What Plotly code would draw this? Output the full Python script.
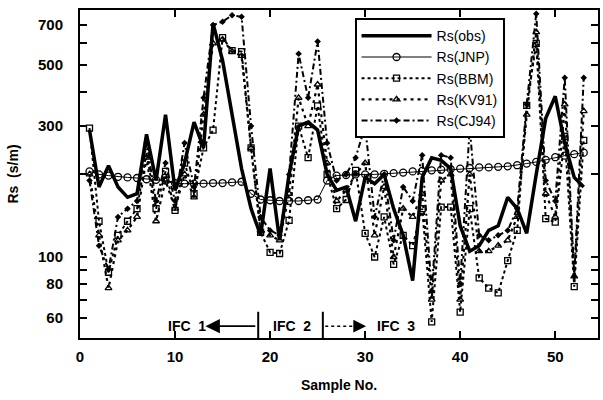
import plotly.graph_objects as go
import math

samples = list(range(1, 54))

rs_obs = [290, 180, 215, 180, 165, 170, 280, 190, 330, 175,
          220, 310, 250, 710, 520, 330, 210, 150, 120, 210,
          115, 200, 300, 310, 290, 200, 175, 180, 135, 195,
          185, 200, 150, 120, 82, 195, 230, 225, 210, 130,
          105, 110, 125, 130, 165, 150, 122, 200, 320, 385,
          260, 195, 180]

rs_jnp = [205, 200, 198, 196, 195, 194, 192, 191, 190, 186,
          185, 185, 185, 186, 186, 187, 188, 170, 162, 161,
          160, 160, 160, 161, 162, 190, 198, 199, 200, 200,
          200, 201, 202, 203, 205, 206, 207, 208, 209, 210,
          211, 212, 212, 213, 214, 216, 219, 222, 226, 231,
          234, 237, 240]

rs_bbm = [295, 135, 88, 120, 135, 150, 240, 150, 205, 148,
          220, 170, 250, 290, 630, 565, 560, 250, 123, 104,
          103, 136, 300, 230, 355, 200, 150, 162, 207, 122,
          100, 140, 94, 120, 110, 150, 58, 152, 152, 63,
          150, 84, 77, 74, 97, 125, 357, 600, 138, 134,
          275, 78, 266]

rs_kv91 = [200, 120, 77, 115, 125, 140, 230, 135, 190, 150,
           200, 165, 330, 600, 620, 560, 540, 250, 125, 120,
           115, 170, 380, 300, 425, 220, 160, 175, 200, 220,
           120, 180, 100, 150, 140, 170, 70, 190, 200, 70,
           200, 105, 105, 110, 115, 140, 330, 660, 170, 140,
           360, 85, 340]

rs_cj94 = [190, 110, 90, 140, 150, 160, 260, 160, 220, 160,
           260, 180, 380, 700, 720, 760, 750, 300, 140, 125,
           120, 200, 550, 380, 610, 260, 190, 200, 230, 300,
           140, 200, 115, 180, 160, 235, 75, 235, 230, 80,
           295, 120, 115, 120, 125, 150, 360, 770, 190, 160,
           450, 85, 450]

y_tickvals = [60, 70, 80, 90, 100, 200, 300, 400, 500, 600, 700]
y_ticktext = ["60", "", "80", "", "100", "", "300", "", "500", "", "700"]
x_tickvals = [0, 10, 20, 30, 40, 50]

fig = go.Figure()
fig.add_trace(go.Scatter(x=samples, y=rs_obs, name="Rs(obs)", mode="lines",
                         line=dict(color="black", width=3.5)))
fig.add_trace(go.Scatter(x=samples, y=rs_jnp, name="Rs(JNP)", mode="lines+markers",
                         line=dict(color="black", width=1),
                         marker=dict(symbol="circle-open", size=7, color="black", line=dict(width=1.3))))
fig.add_trace(go.Scatter(x=samples, y=rs_bbm, name="Rs(BBM)", mode="lines+markers",
                         line=dict(color="black", width=2, dash="dot"),
                         marker=dict(symbol="square-open", size=6, color="black", line=dict(width=1.3))))
fig.add_trace(go.Scatter(x=samples, y=rs_kv91, name="Rs(KV91)", mode="lines+markers",
                         line=dict(color="black", width=2.2, dash="3px,4px"),
                         marker=dict(symbol="triangle-up-open", size=6, color="black", line=dict(width=1.3))))
fig.add_trace(go.Scatter(x=samples, y=rs_cj94, name="Rs(CJ94)", mode="lines+markers",
                         line=dict(color="black", width=2, dash="6px,3px,2px,3px"),
                         marker=dict(symbol="diamond", size=5, color="black")))

font = "Liberation Sans, Arial, sans-serif"

ylo, yhi = 50.7, 794
ly = math.log10(56)
py = (ly - math.log10(ylo)) / (math.log10(yhi) - math.log10(ylo))

fig.add_annotation(x=11.3, y=ly, text="<b>IFC  1</b>", showarrow=False,
                   font=dict(size=14, family=font, color="black"))
fig.add_annotation(x=22.3, y=ly, text="<b>IFC  2</b>", showarrow=False,
                   font=dict(size=14, family=font, color="black"))
fig.add_annotation(x=33.2, y=ly, text="<b>IFC  3</b>", showarrow=False,
                   font=dict(size=14, family=font, color="black"))
fig.add_annotation(x=13.2, y=ly, ax=18.6, ay=ly, xref="x", yref="y", axref="x", ayref="y",
                   text="", showarrow=True, arrowhead=2, arrowsize=1.6, arrowwidth=1.8,
                   arrowcolor="black")
fig.add_shape(type="line", x0=25.8, x1=29.2, y0=py, y1=py, xref="x", yref="paper",
              line=dict(color="black", width=1.5, dash="dot"))
fig.add_annotation(x=30.1, y=ly, ax=28.9, ay=ly, xref="x", yref="y", axref="x", ayref="y",
                   text="", showarrow=True, arrowhead=2, arrowsize=1.6, arrowwidth=1.6,
                   arrowcolor="black")
for xv in [18.75, 25.55]:
    fig.add_shape(type="line", x0=xv, x1=xv, y0=0, y1=0.08, xref="x", yref="paper",
                  line=dict(color="black", width=2))

axis_common = dict(showline=True, linecolor="black", linewidth=2, mirror="allticks",
                   ticks="inside", ticklen=7, tickwidth=1.5, tickcolor="black",
                   showgrid=False, zeroline=False,
                   tickfont=dict(size=15, family=font, color="black"))

fig.update_xaxes(range=[0, 54.5], tickvals=x_tickvals,
                 ticktext=["<b>%d</b>" % v for v in x_tickvals],
                 ticklabelstandoff=4,
                 title=dict(text="<b>Sample No.</b>", font=dict(size=14, family=font, color="black"),
                            standoff=16),
                 **axis_common)
fig.update_yaxes(type="log", range=[math.log10(ylo), math.log10(yhi)],
                 tickvals=y_tickvals,
                 ticktext=["<b>%s</b>" % t if t else "" for t in y_ticktext],
                 ticklabelstandoff=12,
                 title=dict(text="<b>Rs  (s/m)</b>", font=dict(size=14, family=font, color="black"),
                            standoff=16),
                 **axis_common)

fig.update_layout(
    width=603, height=400,
    margin=dict(l=80, r=3, t=10, b=62),
    plot_bgcolor="white", paper_bgcolor="white",
    font=dict(family=font, color="black"),
    legend=dict(x=0.53, y=0.975, xanchor="left", yanchor="top",
                bgcolor="white", bordercolor="black", borderwidth=2,
                font=dict(size=14, family=font, color="black"),
                itemwidth=70, tracegroupgap=0),
)

fig.write_html("out.html")
